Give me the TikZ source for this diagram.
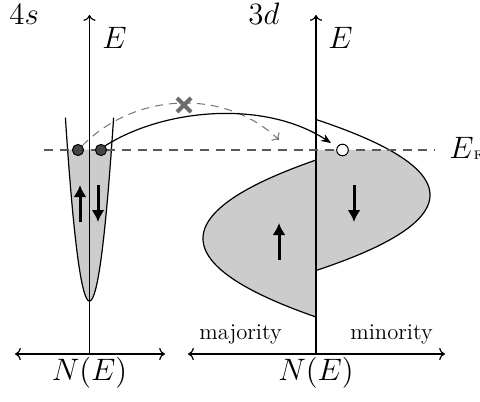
\RequirePackage{fix-cm}
\documentclass[tikz,border=0pt]{standalone}
\usetikzlibrary{arrows.meta}
\definecolor{fillgray}{gray}{0.8}
\definecolor{dotgray}{gray}{0.27}
\definecolor{dashgray}{gray}{0.35}
\definecolor{curvegray}{gray}{0.45}
\definecolor{crossgray}{gray}{0.42}
\begin{document}
\begin{tikzpicture}[x=0.5pt,y=-0.5pt,
  axisline/.style={line width=0.6pt},
  biglbl/.style={font=\fontsize{15.5}{18}\selectfont, inner sep=0pt},
  smalllbl/.style={font=\fontsize{11.3}{13}\selectfont, inner sep=0pt},
  spin/.style={line width=1.5pt, -{Latex[length=6pt,width=6.5pt]}},
  electron/.style={circle, draw=black, line width=0.5pt, fill=dotgray, minimum size=5.6pt, inner sep=0pt},
  hole/.style={circle, draw=black, line width=0.5pt, fill=white, minimum size=5.8pt, inner sep=0pt},
  fermi/.style={dashgray, line width=0.6pt, dash pattern=on 4.5pt off 3.3pt},
  band/.style={line width=0.6pt}]
\useasboundingbox (0,0) rectangle (480,401);

% ---- 4s band (parabola) ----
\fill[fillgray] plot[domain=-21.9:21.9,samples=60] ({89.5+\x},{301-(\x/1.78)*(\x/1.78)}) -- cycle;
\draw[band] plot[domain=-24.1:24.1,samples=90] ({89.5+\x},{301-(\x/1.78)*(\x/1.78)});

% ---- 3d minority band ----
\fill[fillgray] (316,150) -- plot[domain=150:270.5,samples=60] ({316+114*(1-((\x-195)/75.5)*((\x-195)/75.5))},\x) -- cycle;
\draw[band] plot[domain=119.5:270.5,samples=90] ({316+114*(1-((\x-195)/75.5)*((\x-195)/75.5))},\x);

% ---- 3d majority band ----
\fill[fillgray] plot[domain=160:317,samples=90] ({316-113*(1-((\x-238.5)/78.5)*((\x-238.5)/78.5))},\x) -- cycle;
\draw[band] plot[domain=160:317,samples=90] ({316-113*(1-((\x-238.5)/78.5)*((\x-238.5)/78.5))},\x);

% ---- axes ----
\coordinate (o1) at (89.5,354);
\coordinate (t1) at (89.5,15);
\coordinate (l1) at (15,354);
\coordinate (r1) at (165,354);
\coordinate (o2) at (316,354);
\coordinate (t2) at (316,15);
\coordinate (l2) at (188,354);
\coordinate (r2) at (445,354);
\draw[axisline,->] (o1) -- (t1);
\draw[axisline,<->] (l1) -- (r1);
\draw[axisline,->] (o2) -- (t2);
\draw[axisline,<->] (l2) -- (r2);

% ---- Fermi level ----
\coordinate (fa) at (44,150);
\coordinate (fb) at (435,150);
\draw[fermi] (fa) -- (fb);
\node[biglbl, anchor=base west] (ef) at (449,158) {$E$\raisebox{-0.5pt}{\fontsize{6.2}{7}\selectfont F}};

% ---- electrons and hole ----
\node[electron] (e1) at (78,150) {};
\node[electron] (e2) at (101,150) {};
\node[hole] (h) at (342.5,150) {};

% ---- transitions ----
\coordinate (gtip) at (279,140);
\draw[curvegray, line width=0.5pt, dash pattern=on 4pt off 3pt, ->] (e1.north east) .. controls (135,92) and (225,88) .. (gtip);
\draw[line width=0.6pt, -{Stealth[length=5pt,width=4pt]}] (e2.north east) .. controls (165,108) and (265,100) .. ([xshift=-5.75pt,yshift=3.5pt]h.center);
\draw[crossgray, line width=2pt] (177,98) -- (191,112) (177,112) -- (191,98);

% ---- spin arrows ----
\draw[spin] (80,222) -- (80,185);
\draw[spin] (98,185) -- (98,222);
\draw[spin] (279,260) -- (279,223);
\draw[spin] (354,185) -- (354,222);

% ---- labels ----
\node[biglbl, anchor=base west] (l4s) at (9,25) {$4s$};
\node[biglbl, anchor=base west] (l3d) at (248,25) {$3d$};
\node[biglbl, anchor=base west] (le1) at (102,48) {$E$};
\node[biglbl, anchor=base west] (le2) at (328,48) {$E$};
\node[biglbl, anchor=base] (ln1) at (89.5,380) {$N(E)$};
\node[biglbl, anchor=base] (ln2) at (316,380) {$N(E)$};
\node[smalllbl, anchor=base west] (maj) at (199,339) {majority};
\node[smalllbl, anchor=base west] (mino) at (350,339) {minority};
\end{tikzpicture}
\end{document}
